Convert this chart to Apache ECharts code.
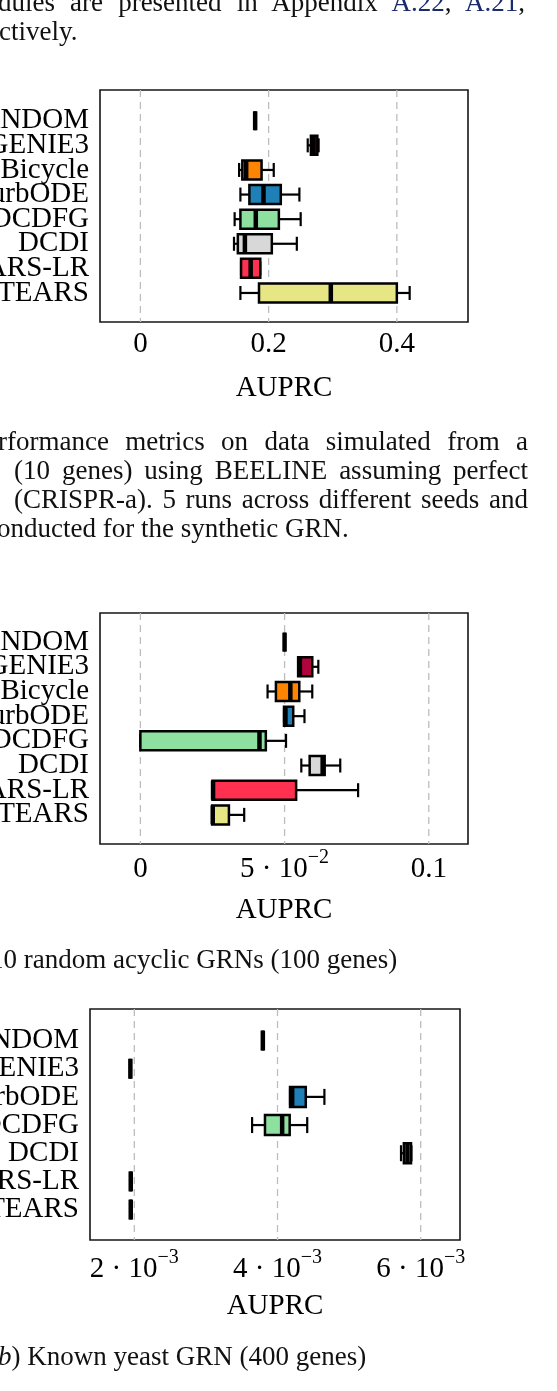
<!DOCTYPE html>
<html>
<head>
<meta charset="utf-8">
<title>AUPRC box plots</title>
<style>
  * { margin: 0; padding: 0; }
  body { width: 557px; height: 1391px; position: relative; overflow: hidden; background: #fff;
         font-family: 'Liberation Serif', 'Times New Roman', serif; color: #111; }
  #chart { position: absolute; left: 0; top: 0; width: 557px; height: 1391px; }
  .txt { position: absolute; font-size: 27px; line-height: 27px; white-space: nowrap; z-index: 2; }
  .just { text-align: justify; text-align-last: justify; white-space: normal; }
  .lnk { color: #1a2a6c; }
</style>
<script src="https://cdn.jsdelivr.net/npm/echarts@6/dist/echarts.min.js"></script>
</head>
<body>
<div id="chart"></div>

<div class="txt just" style="left:-2px;top:-11px;width:527px">dules are presented in Appendix <span class="lnk">A.22</span>, <span class="lnk">A.21</span>,</div>
<div class="txt" style="left:-1px;top:18px">ctively.</div>

<div class="txt just" style="left:-2px;top:428px;width:530px">rformance metrics on data simulated from a</div>
<div class="txt just" style="left:14px;top:457px;width:514px">(10 genes) using BEELINE assuming perfect</div>
<div class="txt just" style="left:14px;top:486px;width:514px">(CRISPR-a). 5 runs across different seeds and</div>
<div class="txt" style="left:-3px;top:515px">onducted for the synthetic GRN.</div>

<div class="txt" style="left:-10px;top:946px">10 random acyclic GRNs (100 genes)</div>
<div class="txt" style="left:-11px;top:1343px">(<i>b</i>) Known yeast GRN (400 genes)</div>

<script>
// categories
var methods = ['RANDOM', 'GENIE3', 'Bicycle', 'PerturbODE', 'DCDFG', 'DCDI', 'NOTEARS-LR', 'NOTEARS'];
var methodsYeast = ['RANDOM', 'GENIE3', 'PerturbODE', 'DCDFG', 'DCDI', 'NOTEARS-LR', 'NOTEARS'];

var colors = ['#222222', '#b0043e', '#ff8500', '#1f80b8', '#8de0a0', '#d8d8d8', '#ff3050', '#e6e684'];
var colorsYeast = ['#222222', '#b0043e', '#1f80b8', '#8de0a0', '#d8d8d8', '#ff3050', '#e6e684'];

// AUPRC per method: [min, q1, median, q3, max]
var synthStats = [
  [0.179, 0.179, 0.179, 0.179, 0.179],
  [0.261, 0.266, 0.270, 0.276, 0.278],
  [0.154, 0.159, 0.165, 0.189, 0.208],
  [0.156, 0.170, 0.192, 0.219, 0.248],
  [0.147, 0.156, 0.180, 0.216, 0.250],
  [0.146, 0.152, 0.163, 0.205, 0.244],
  [0.157, 0.157, 0.172, 0.187, 0.187],
  [0.156, 0.185, 0.297, 0.400, 0.420]
];
var randomStats = [
  [0.0500, 0.0500, 0.0500, 0.0500, 0.0500],
  [0.0547, 0.0547, 0.0553, 0.0596, 0.0617],
  [0.0441, 0.0470, 0.0520, 0.0551, 0.0596],
  [0.0498, 0.0498, 0.0503, 0.0530, 0.0569],
  [0.0000, 0.0000, 0.0413, 0.0435, 0.0505],
  [0.0558, 0.0587, 0.0632, 0.0639, 0.0693],
  [0.0250, 0.0250, 0.0252, 0.0540, 0.0755],
  [0.0249, 0.0249, 0.0251, 0.0307, 0.0360]
];
var yeastStats = [
  [0.003795, 0.003795, 0.003795, 0.003795, 0.003795],
  [0.001945, 0.001945, 0.001945, 0.001945, 0.001945],
  [0.004175, 0.004175, 0.004205, 0.004395, 0.004655],
  [0.003645, 0.003825, 0.004065, 0.004170, 0.004415],
  [0.005725, 0.005765, 0.005815, 0.005865, 0.005870],
  [0.001950, 0.001950, 0.001950, 0.001950, 0.001950],
  [0.001950, 0.001950, 0.001950, 0.001950, 0.001950]
];

// tick labels
var synthTicks = [0, 0.2, 0.4];
var randomTicks = [0, 0.05, 0.1];
var yeastTicks = [0.002, 0.004, 0.006];

var FONT = 'Liberation Serif';

function makeRender(boxH, capH) {
  return function (params, api) {
    var row = api.value(0);
    var p = [1, 2, 3, 4, 5].map(function (d) { return api.coord([api.value(d), row]); });
    var cy = p[0][1];
    var lo = p[0][0], q1 = p[1][0], md = p[2][0], q3 = p[3][0], hi = p[4][0];
    var hb = boxH / 2, hc = capH / 2;
    var ln = { stroke: '#000', lineWidth: 2.2 };
    return {
      type: 'group',
      children: [
        { type: 'line', shape: { x1: lo, y1: cy, x2: q1, y2: cy }, style: ln },
        { type: 'line', shape: { x1: q3, y1: cy, x2: hi, y2: cy }, style: ln },
        { type: 'line', shape: { x1: lo, y1: cy - hc, x2: lo, y2: cy + hc }, style: ln },
        { type: 'line', shape: { x1: hi, y1: cy - hc, x2: hi, y2: cy + hc }, style: ln },
        { type: 'rect', shape: { x: q1, y: cy - hb, width: q3 - q1, height: boxH },
          style: { fill: api.visual('color'), stroke: '#000', lineWidth: 2.5 } },
        { type: 'line', shape: { x1: md, y1: cy - hb, x2: md, y2: cy + hb },
          style: { stroke: '#000', lineWidth: 4.5 } }
      ]
    };
  };
}

function renderGridLine(params, api) {
  var x = api.coord([api.value(0), 0])[0];
  var cs = params.coordSys;
  return {
    type: 'line',
    shape: { x1: x, y1: cs.y, x2: x, y2: cs.y + cs.height },
    style: { stroke: '#bdbdbd', lineWidth: 1.3, lineDash: [7, 5] }
  };
}

// method names drawn at each row, right aligned against the frame
function makeLabelRender(names, xRef) {
  return function (params, api) {
    var row = api.value(0);
    var y = api.coord([xRef, row])[1];
    return {
      type: 'text',
      x: params.coordSys.x - 11,
      y: y,
      style: {
        text: names[row], align: 'right', verticalAlign: 'middle',
        fontFamily: FONT, fontSize: 29, fill: '#000'
      }
    };
  };
}

function boxSeries(k, stats, cols, boxH, capH) {
  return {
    type: 'custom', xAxisIndex: k, yAxisIndex: k, z: 3, silent: true,
    renderItem: makeRender(boxH, capH),
    encode: { x: [1, 2, 3, 4, 5], y: 0 },
    data: stats.map(function (s, i) {
      return { value: [i].concat(s), itemStyle: { color: cols[i] } };
    })
  };
}

function gridSeries(k, ticks) {
  return {
    type: 'custom', xAxisIndex: k, yAxisIndex: k, z: 1, silent: true,
    renderItem: renderGridLine,
    encode: { x: 0 },
    data: ticks.map(function (v) { return [v]; })
  };
}

function labelSeries(k, names, xRef) {
  return {
    type: 'custom', xAxisIndex: k, yAxisIndex: k, z: 4, silent: true, clip: false,
    renderItem: makeLabelRender(names, xRef),
    encode: { y: 0 },
    data: names.map(function (n, i) { return [i]; })
  };
}

var sciRich = {
  m: { fontFamily: FONT, fontSize: 29, color: '#000', lineHeight: 36, verticalAlign: 'bottom' },
  s: { fontFamily: FONT, fontSize: 20, color: '#000', lineHeight: 22, verticalAlign: 'top' }
};

function xAxisOf(k, min, max, ticks, fmt, margin, rich) {
  var lab = { customValues: ticks, formatter: fmt, fontFamily: FONT, fontSize: 29, color: '#000', margin: margin,
              showMinLabel: true, showMaxLabel: true };
  if (rich) lab.rich = rich;
  return {
    gridIndex: k, type: 'value', min: min, max: max,
    axisLine: { show: false }, axisTick: { show: false }, splitLine: { show: false },
    axisLabel: lab,
    name: 'AUPRC', nameLocation: 'middle', nameGap: 52,
    nameTextStyle: { fontFamily: FONT, fontSize: 29, color: '#000' }
  };
}

function yAxisOf(k, min, max) {
  return {
    gridIndex: k, type: 'value', inverse: true, min: min, max: max,
    axisLine: { show: false }, axisTick: { show: false }, splitLine: { show: false },
    axisLabel: { show: false }
  };
}

var frame = { show: true, borderColor: '#161616', borderWidth: 1.6, backgroundColor: 'transparent', outerBoundsMode: 'none', containLabel: false };

var option = {
  animation: false,
  backgroundColor: '#fff',
  grid: [
    Object.assign({ left: 100, top: 90, width: 368, height: 232 }, frame),
    Object.assign({ left: 100, top: 613, width: 368, height: 231 }, frame),
    Object.assign({ left: 90, top: 1009, width: 370, height: 231 }, frame)
  ],
  xAxis: [
    xAxisOf(0, -0.063, 0.511, synthTicks, function (v) { return String(v); }, 8),
    xAxisOf(1, -0.014, 0.1136, randomTicks, function (v) {
      if (Math.abs(v - 0.05) < 1e-9) return '{m|5 \u00b7 10}{s|\u22122}';
      return '{m|' + v + '}';
    }, 4, sciRich),
    xAxisOf(2, 0.001381, 0.006549, yeastTicks, function (v) {
      return '{m|' + Math.round(v * 1000) + ' \u00b7 10}{s|\u22123}';
    }, 8, sciRich)
  ],
  yAxis: [
    yAxisOf(0, -1.25, 8.18),
    yAxisOf(1, -1.18, 8.18),
    yAxisOf(2, -1.12, 7.08)
  ],
  series: [
    gridSeries(0, synthTicks),
    gridSeries(1, randomTicks),
    gridSeries(2, yeastTicks),
    boxSeries(0, synthStats, colors, 19, 14),
    boxSeries(1, randomStats, colors, 19, 14),
    boxSeries(2, yeastStats, colorsYeast, 20, 16),
    labelSeries(0, methods, 0),
    labelSeries(1, methods, 0),
    labelSeries(2, methodsYeast, 0.004)
  ]
};

var chart = echarts.init(document.getElementById('chart'), null, { renderer: 'canvas' });
chart.setOption(option);
</script>
</body>
</html>
